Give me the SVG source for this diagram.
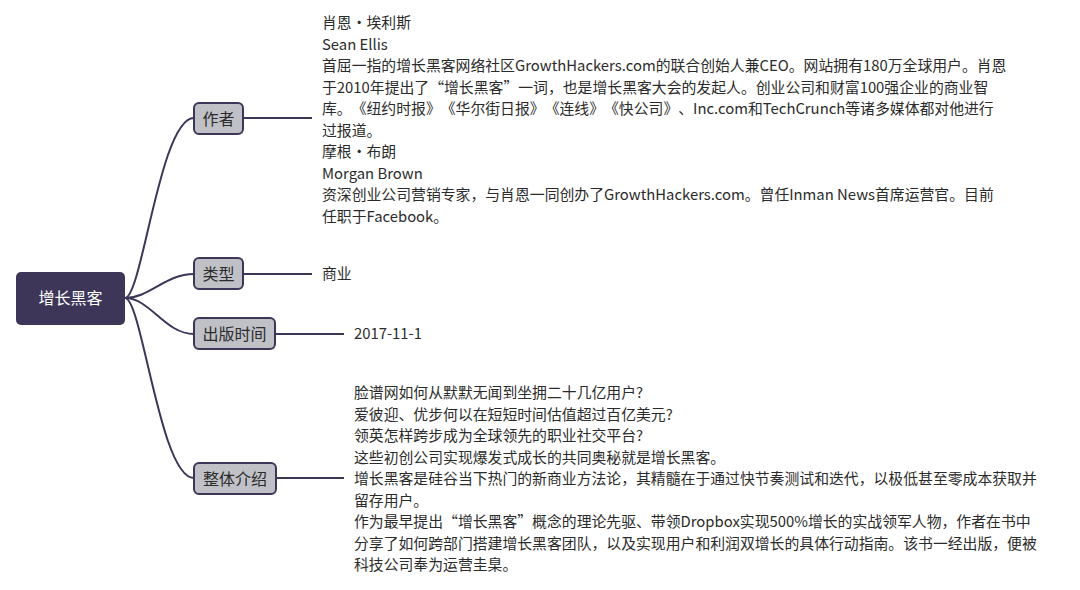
<svg xmlns="http://www.w3.org/2000/svg" width="1080" height="590" viewBox="0 0 1080 590">
<style>
.bg{fill:#ffffff}
.root{fill:#3d3659}
.rootText{fill:#ffffff;font-family:"Noto Sans CJK SC","Noto Sans",sans-serif;font-size:16px}
.br{fill:#c0c1c6;stroke:#3d3659;stroke-width:2}
.brText{fill:#2b2b2b;font-family:"Noto Sans CJK SC","Noto Sans",sans-serif;font-size:16px}
.conn{fill:none;stroke:#3d3659;stroke-width:2}
.t{fill:#2b2b2b;font-family:"Noto Sans CJK SC","Noto Sans",sans-serif;font-size:14.85px;text-spacing-trim:space-all}
</style>
<rect class="bg" x="0" y="0" width="1080" height="590"/>
<g id="connectors">
<path class="conn" d="M125,298 C142,298 160,118 194,118"/>
<path class="conn" d="M125,298 C150,298 165,274 194,274"/>
<path class="conn" d="M125,298 C150,298 165,334 194,334"/>
<path class="conn" d="M125,298 C142,298 160,478 194,478"/>
<path class="conn" d="M243,118 H312"/>
<path class="conn" d="M243,274 H312"/>
<path class="conn" d="M275,334 H344"/>
<path class="conn" d="M276,478 H344"/>
</g>
<g id="root">
<rect class="root" x="16" y="272" width="109" height="53" rx="5"/>
<text class="rootText" x="70.5" y="304" text-anchor="middle">增长黑客</text>
</g>
<g id="node-author">
<rect class="br" x="194" y="103" width="49" height="31" rx="5"/>
<text class="brText" x="218.5" y="124.5" text-anchor="middle">作者</text>
</g>
<g id="node-type">
<rect class="br" x="194" y="258" width="49" height="31" rx="5"/>
<text class="brText" x="218.5" y="279.5" text-anchor="middle">类型</text>
</g>
<g id="node-date">
<rect class="br" x="194" y="318" width="81" height="31" rx="5"/>
<text class="brText" x="234.5" y="339.5" text-anchor="middle">出版时间</text>
</g>
<g id="node-intro">
<rect class="br" x="194" y="463" width="82" height="31" rx="5"/>
<text class="brText" x="235" y="484.5" text-anchor="middle">整体介绍</text>
</g>
<g id="text-author">
<text class="t" x="322" y="28">肖恩・埃利斯</text>
<text class="t" x="322" y="49.5">Sean Ellis</text>
<text class="t" x="322" y="71">首屈一指的增长黑客网络社区GrowthHackers.com的联合创始人兼CEO。网站拥有180万全球用户。肖恩</text>
<text class="t" x="322" y="92.5">于2010年提出了“增长黑客”一词，也是增长黑客大会的发起人。创业公司和财富100强企业的商业智</text>
<text class="t" x="322" y="114">库。《纽约时报》《华尔街日报》《连线》《快公司》、Inc.com和TechCrunch等诸多媒体都对他进行</text>
<text class="t" x="322" y="135.5">过报道。</text>
<text class="t" x="322" y="157">摩根・布朗</text>
<text class="t" x="322" y="178.5">Morgan Brown</text>
<text class="t" x="322" y="200">资深创业公司营销专家，与肖恩一同创办了GrowthHackers.com。曾任Inman News首席运营官。目前</text>
<text class="t" x="322" y="221.5">任职于Facebook。</text>
</g>
<g id="text-type">
<text class="t" x="322" y="279">商业</text>
</g>
<g id="text-date">
<text class="t" x="354" y="339">2017-11-1</text>
</g>
<g id="text-intro">
<text class="t" x="354" y="398">脸谱网如何从默默无闻到坐拥二十几亿用户?</text>
<text class="t" x="354" y="419.5">爱彼迎、优步何以在短短时间估值超过百亿美元?</text>
<text class="t" x="354" y="441">领英怎样跨步成为全球领先的职业社交平台?</text>
<text class="t" x="354" y="462.5">这些初创公司实现爆发式成长的共同奥秘就是增长黑客。</text>
<text class="t" x="354" y="484">增长黑客是硅谷当下热门的新商业方法论，其精髓在于通过快节奏测试和迭代，以极低甚至零成本获取并</text>
<text class="t" x="354" y="505.5">留存用户。</text>
<text class="t" x="354" y="527">作为最早提出“增长黑客”概念的理论先驱、带领Dropbox实现500%增长的实战领军人物，作者在书中</text>
<text class="t" x="354" y="548.5">分享了如何跨部门搭建增长黑客团队，以及实现用户和利润双增长的具体行动指南。该书一经出版，便被</text>
<text class="t" x="354" y="570">科技公司奉为运营圭臬。</text>
</g>
</svg>
